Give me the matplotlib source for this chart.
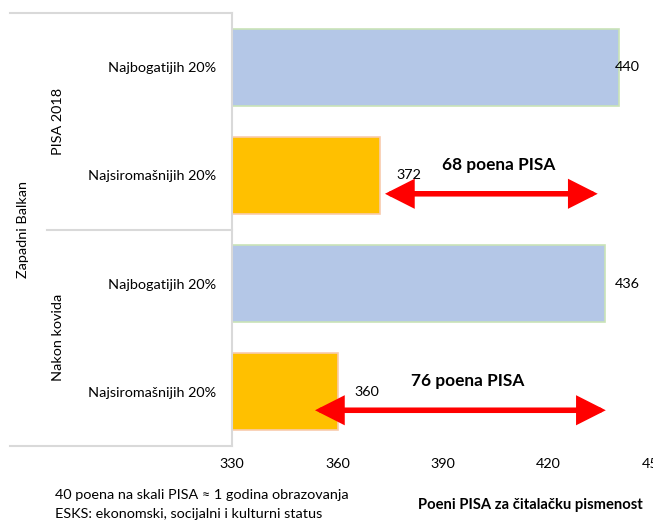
import matplotlib.pyplot as plt
from matplotlib.lines import Line2D

plt.rcParams['font.family'] = ['Lato', 'DejaVu Sans']

# data
categories = ['Najbogatijih 20%', 'Najsiromašnijih 20%',
              'Najbogatijih 20%', 'Najsiromašnijih 20%']
scores = [440, 372, 436, 360]
groups = ['PISA 2018', 'Nakon kovida']
region = 'Zapadni Balkan'
xticks = [330, 360, 390, 420, 450]

# arrows showing the gap (start, end) in PISA points
arrow_spans = [(373.5, 434), (353.6, 436.3)]

blue, blue_edge = '#B4C7E7', '#C9E3B8'
orange, orange_edge = '#FFC000', '#F8CBAD'
grey = '#D9D9D9'
fs = 10.4

fig = plt.figure(figsize=(6.53, 5.21), dpi=100)
ax = fig.add_axes([0.3553, 0.144, 0.6462, 0.831])

ypos = list(range(len(scores)))
colors = [blue, orange, blue, orange]
edges = [blue_edge, orange_edge, blue_edge, orange_edge]
ax.barh(ypos, [s - xticks[0] for s in scores], left=xticks[0], height=0.71,
        color=colors, edgecolor=edges, linewidth=1.2)

ax.set_xlim(xticks[0], xticks[-1])
ax.set_ylim(len(scores) - 0.5, -0.5)
ax.set_xticks(xticks)
ax.set_yticks(ypos)
ax.set_yticklabels(categories)
ax.tick_params(axis='y', length=0, pad=11.5, labelsize=fs)
ax.tick_params(axis='x', length=0, pad=8.5, labelsize=fs)
for side in ['top', 'right', 'bottom']:
    ax.spines[side].set_visible(False)
ax.spines['left'].set_color(grey)
ax.spines['left'].set_linewidth(1.5)

# value labels
for y, v in zip(ypos, scores):
    x = min(v + 4.7, 438.9)
    ax.text(x, y, str(v), ha='left', va='center', fontsize=fs)

# gap arrows and labels
for i, (x0, x1) in enumerate(arrow_spans):
    rich, poor = scores[2 * i], scores[2 * i + 1]
    y = 2 * i + 1
    ax.annotate('', xy=(x1, y + 0.17), xytext=(x0, y + 0.17),
                arrowprops=dict(arrowstyle='<|-|>,head_length=0.75,head_width=0.38',
                                color='#FF0000', lw=4, mutation_scale=20,
                                shrinkA=0, shrinkB=0, joinstyle='miter'))
    ax.text((x0 + x1) / 2 + 2, y - 0.1, f'{rich - poor} poena PISA',
            ha='center', va='center', fontsize=12.4, fontweight='bold')

# hierarchical category lines and labels
line_kw = dict(color=grey, lw=1.5, transform=ax.transAxes, clip_on=False)
ax.add_line(Line2D([-0.526, 0], [1, 1], **line_kw))
ax.add_line(Line2D([-0.438, 0], [0.5, 0.5], **line_kw))
ax.add_line(Line2D([-0.526, 0], [0, 0], **line_kw))

ax.text(-0.412, 0.75, groups[0], rotation=90, ha='center', va='center',
        fontsize=fs, transform=ax.transAxes)
ax.text(-0.412, 0.25, groups[1], rotation=90, ha='center', va='center',
        fontsize=fs, transform=ax.transAxes)
ax.text(-0.495, 0.5, region, rotation=90, ha='center', va='center',
        fontsize=fs, transform=ax.transAxes)

# notes and axis title
fig.text(0.084, 0.049, '40 poena na skali PISA ≈ 1 godina obrazovanja',
         ha='left', va='center', fontsize=fs)
fig.text(0.084, 0.013, 'ESKS: ekonomski, socijalni i kulturni status',
         ha='left', va='center', fontsize=fs)
fig.text(0.812, 0.031, 'Poeni PISA za čitalačku pismenost',
         ha='center', va='center', fontsize=10.6, fontweight='bold')

fig.savefig('out.png', dpi=100)
